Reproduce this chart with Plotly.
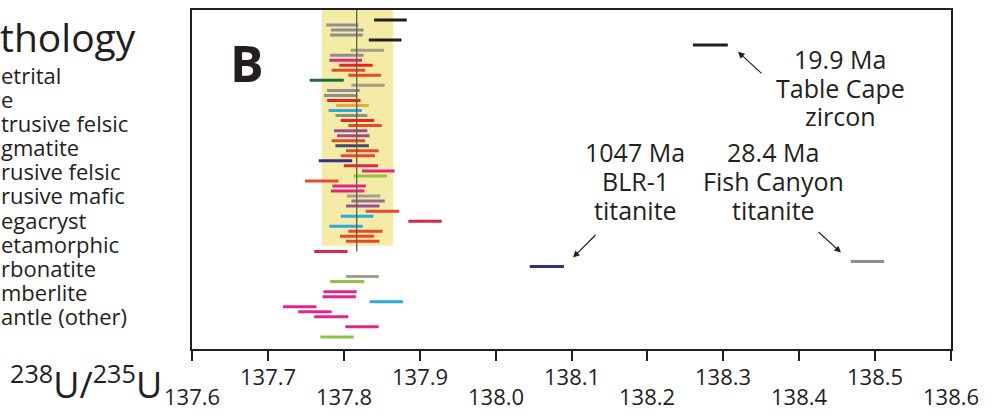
import plotly.graph_objects as go

# ---------------- data ----------------
seg_row = [0, 1, 2, 3, 4, 5, 6, 7, 8, 9, 10, 11, 12, 13, 14, 15, 16, 17, 18, 19,
           20, 21, 22, 23, 24, 25, 26, 27, 28, 29, 30, 31, 32, 33, 34, 35, 36, 37, 38, 39,
           40, 41, 42, 43, 44, 46, 48, 49, 51, 52, 54, 55, 56, 57, 58, 59, 61, 63]
seg_lo = [137.840, 137.777, 137.783, 137.782, 137.833, 138.260, 137.809, 137.782, 137.781, 137.794,
          137.784, 137.806, 137.755, 137.810, 137.778, 137.774, 137.778, 137.790, 137.780, 137.789,
          137.796, 137.806, 137.787, 137.791, 137.784, 137.789, 137.803, 137.796, 137.767, 137.800,
          137.824, 137.813, 137.749, 137.785, 137.783, 137.804, 137.810, 137.803, 137.829, 137.796,
          137.885, 137.781, 137.806, 137.795, 137.803, 137.761, 138.468, 138.045, 137.803, 137.782,
          137.773, 137.772, 137.834, 137.720, 137.740, 137.761, 137.802, 137.769]
seg_hi = [137.883, 137.819, 137.826, 137.825, 137.876, 138.306, 137.853, 137.826, 137.824, 137.838,
          137.828, 137.849, 137.800, 137.854, 137.821, 137.818, 137.822, 137.833, 137.824, 137.831,
          137.840, 137.850, 137.831, 137.834, 137.828, 137.833, 137.846, 137.841, 137.811, 137.845,
          137.867, 137.857, 137.793, 137.829, 137.827, 137.848, 137.854, 137.847, 137.873, 137.839,
          137.929, 137.825, 137.851, 137.840, 137.847, 137.805, 138.512, 138.090, 137.846, 137.827,
          137.817, 137.816, 137.878, 137.764, 137.784, 137.806, 137.846, 137.813]
seg_lith = ["Ore", "Detrital", "Detrital", "Detrital", "Ore", "Table Cape zircon", "Hydrothermal",
            "Detrital", "Kimberlite", "Extrusive felsic", "Intrusive felsic", "Intrusive felsic",
            "Pegmatite", "Hydrothermal", "Detrital", "Detrital", "Extrusive felsic", "Megacryst",
            "Carbonatite", "Detrital", "Extrusive felsic", "Intrusive felsic", "Metamorphic",
            "Metamorphic", "Intrusive felsic", "Intrusive intermediate", "Intrusive felsic",
            "Intrusive felsic", "Intrusive mafic", "Skarn", "Kimberlite", "Mantle (other)",
            "Intrusive felsic", "Kimberlite", "Kimberlite", "Hydrothermal", "Metasomatic",
            "Metamorphic", "Intrusive felsic", "Carbonatite", "Skarn", "Carbonatite",
            "Intrusive felsic", "Intrusive felsic", "Intrusive felsic", "Skarn",
            "Fish Canyon titanite", "BLR-1 titanite", "Hydrothermal", "Mantle (other)",
            "Kimberlite", "Kimberlite", "Carbonatite", "Kimberlite", "Kimberlite", "Kimberlite",
            "Kimberlite", "Mantle (other)"]

band_lo, band_hi = 137.771, 137.865      # weighted-mean uncertainty band
mean_value = 137.817                      # weighted mean
band_last_row = 44

tick_vals = [137.6, 137.7, 137.8, 137.9, 138.0, 138.1, 138.2, 138.3, 138.4, 138.5, 138.6]
tick_text = ["137.6", "137.7", "137.8", "137.9", "138.0", "138.1", "138.2", "138.3", "138.4", "138.5", "138.6"]

legend_title = "thology"
legend_items = ["etrital", "e", "trusive felsic", "gmatite", "rusive felsic", "rusive mafic",
                "egacryst", "etamorphic", "rbonatite", "mberlite", "antle (other)"]

# ---------------- style ----------------
colors = {
    "Detrital": "#8e8e8e", "Ore": "#1f1f1f", "Extrusive felsic": "#e42528",
    "Intrusive felsic": "#e8482c", "Pegmatite": "#1f6e3d", "Intrusive mafic": "#2e3185",
    "Intrusive intermediate": "#3e4a68", "Megacryst": "#f4a23a", "Metamorphic": "#9d4d97",
    "Metasomatic": "#8f6f94", "Carbonatite": "#2aaae0", "Kimberlite": "#e2248b",
    "Mantle (other)": "#8dc641", "Skarn": "#dc2846", "Hydrothermal": "#a59e86",
    "Table Cape zircon": "#1f1f1f", "BLR-1 titanite": "#2e3185", "Fish Canyon titanite": "#8e8e8e",
}
INK = "#231f20"
FONT = "Open Sans"

W, H = 991, 417
L, R, T, B = 192, 40, 8, 68
PW, PH = W - L - R, H - T - B


def px_x(p):
    return (p - L) / PW


def px_y(p):
    return (H - B - p) / PH


fig = go.Figure()

order = []
for c in seg_lith:
    if c not in order:
        order.append(c)
for cat in order:
    xs, ys = [], []
    for r, lo, hi, c in zip(seg_row, seg_lo, seg_hi, seg_lith):
        if c == cat:
            xs += [lo, hi, None]
            ys += [r, r, None]
    fig.add_trace(go.Scatter(x=xs, y=ys, mode="lines", name=cat,
                             line=dict(color=colors[cat], width=3), showlegend=False,
                             hoverinfo="skip"))

shapes = [
    dict(type="rect", xref="x", yref="y", x0=band_lo, x1=band_hi, y0=-3, y1=band_last_row + 0.9,
         fillcolor="#f4eca6", line=dict(width=0), layer="below"),
    dict(type="line", xref="x", yref="y", x0=mean_value, x1=mean_value, y0=-3, y1=band_last_row + 2,
         line=dict(color="#5f5c40", width=1.3), layer="above"),
]

ann = []
# staggered tick labels
for i, (v, t) in enumerate(zip(tick_vals, tick_text)):
    ann.append(dict(x=v, xref="x", y=px_y(396 if i % 2 == 0 else 376), yref="paper",
                    text=t, showarrow=False, xanchor="center", yanchor="middle",
                    font=dict(family=FONT, size=22, color=INK)))

# axis title
ann.append(dict(x=px_x(86), y=px_y(383), xref="paper", yref="paper",
                text="<sup>238</sup>U/<sup>235</sup>U", showarrow=False,
                xanchor="center", yanchor="middle",
                font=dict(family=FONT, size=36, color=INK)))

# cropped legend text
ann.append(dict(x=px_x(-2), y=px_y(35), xref="paper", yref="paper", text=legend_title,
                showarrow=False, xanchor="left", yanchor="middle",
                font=dict(family=FONT, size=39, color=INK)))
for i, t in enumerate(legend_items):
    ann.append(dict(x=px_x(-1), y=px_y(73 + 24.3 * i), xref="paper", yref="paper", text=t,
                    showarrow=False, xanchor="left", yanchor="middle",
                    font=dict(family=FONT, size=22, color=INK)))

# panel letter
ann.append(dict(x=px_x(247), y=px_y(61), xref="paper", yref="paper", text="<b>B</b>",
                showarrow=False, xanchor="center", yanchor="middle",
                font=dict(family=FONT, size=50, color=INK)))

# standard labels
labels = [
    (840, [57, 86, 115], ["19.9 Ma", "Table Cape", "zircon"]),
    (635, [151, 180, 209], ["1047 Ma", "BLR-1", "titanite"]),
    (773, [151, 180, 209], ["28.4 Ma", "Fish Canyon", "titanite"]),
]
for cx, ys, lines in labels:
    for yy, t in zip(ys, lines):
        ann.append(dict(x=px_x(cx), y=px_y(yy), xref="paper", yref="paper", text=t,
                        showarrow=False, xanchor="center", yanchor="middle",
                        font=dict(family=FONT, size=25, color=INK)))

# arrows (head position, tail offset)
for hx, hy, ax, ay in [(738, 50, 25, 23), (573, 257, 24, -24), (841, 252, -24, -22)]:
    ann.append(dict(x=px_x(hx), y=px_y(hy), xref="paper", yref="paper", text="",
                    showarrow=True, ax=ax, ay=ay, arrowhead=2, arrowsize=1.1,
                    arrowwidth=1.2, arrowcolor=INK, standoff=0))

fig.update_layout(
    width=W, height=H, margin=dict(l=L, r=R, t=T, b=B),
    paper_bgcolor="white", plot_bgcolor="white",
    xaxis=dict(range=[137.6, 138.6], tickvals=tick_vals, showticklabels=False,
               ticks="outside", ticklen=10, tickwidth=2, tickcolor=INK,
               showline=True, linewidth=2, linecolor=INK, mirror=True,
               showgrid=False, zeroline=False, fixedrange=True),
    yaxis=dict(range=[65.4, -1.98], showticklabels=False, ticks="",
               showline=True, linewidth=2, linecolor=INK, mirror=True,
               showgrid=False, zeroline=False, fixedrange=True),
    shapes=shapes, annotations=ann, showlegend=False,
)

fig.write_html("out.html", config={"displayModeBar": False},
               post_script="document.body.style.margin='0';document.body.style.overflow='hidden';")
